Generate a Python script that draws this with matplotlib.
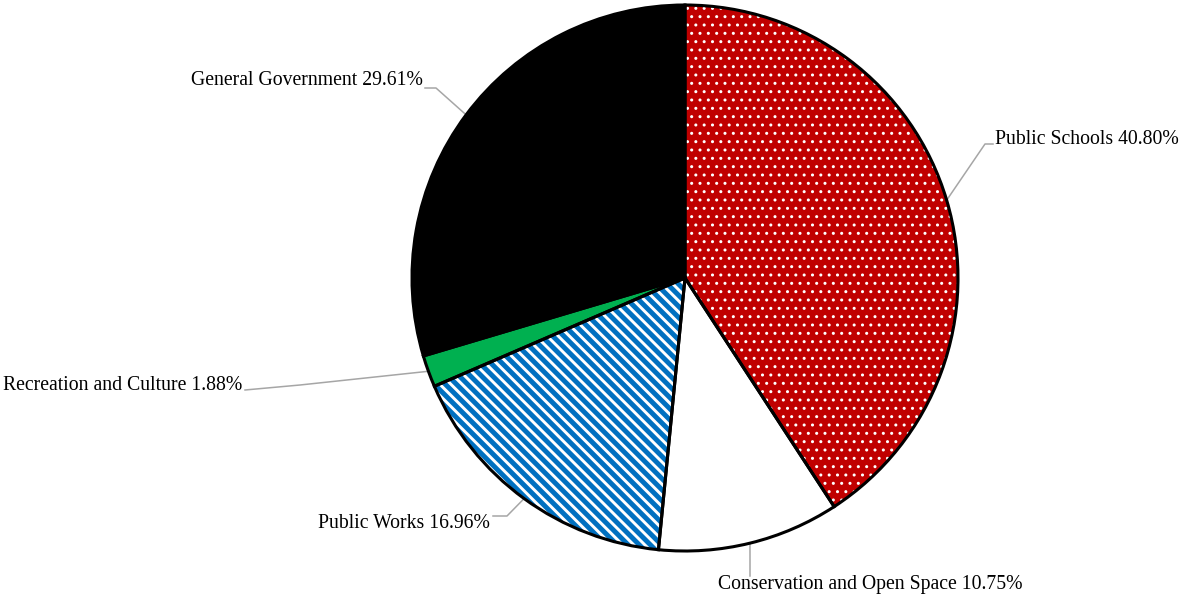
import numpy as np
import matplotlib.pyplot as plt

labels = ["Public Schools", "Conservation and Open Space", "Public Works",
          "Recreation and Culture", "General Government"]
shares = [40.80, 10.75, 16.96, 1.88, 29.61]
colors = ["#C00000", "#FFFFFF", "#0070C0", "#00B050", "#000000"]
hatches = ["..", None, "\\\\\\", None, None]
hatch_lw = [1.0, 1.0, 2.1, 1.0, 1.0]

W, H = 1181, 597
CX, CY, R = 685, 278, 273   # pie centre / radius in pixels (from top)


def px(x, y):
    # pixel position (from top-left) -> data coords
    return (x - CX) / R, (CY - y) / R


plt.rcParams['font.family'] = ['Liberation Serif', 'DejaVu Serif']
plt.rcParams['hatch.linewidth'] = 1.0

fig = plt.figure(figsize=(W / 100, H / 100), dpi=100)
ax = fig.add_axes([0, 0, 1, 1])

# filled + hatched layer
wedges, _ = ax.pie(shares, colors=colors, startangle=90, counterclock=False,
                   radius=1, wedgeprops=dict(linewidth=0, edgecolor='white'))
for w, h, lw in zip(wedges, hatches, hatch_lw):
    if h:
        w.set_hatch(h)
        if hasattr(w, 'set_hatch_linewidth'):
            w.set_hatch_linewidth(lw)
        else:
            w._hatch_linewidth = lw

# outlines
ax.pie(shares, colors=['none'] * len(shares), startangle=90, counterclock=False,
       radius=1, wedgeprops=dict(linewidth=2.2, edgecolor='black', fill=False))

x0, _ = px(0, 0)
x1, _ = px(W, 0)
_, y0 = px(0, H)
_, y1 = px(0, 0)
ax.set_xlim(x0, x1)
ax.set_ylim(y0, y1)
ax.set_aspect('equal', adjustable='box')
ax.axis('off')

# label layout: (elbow point, end point, text point, alignment) in pixels
layout = [
    ((985, 144), (993, 144), (995, 139), 'left', 'center'),
    ((750, 560), (750, 576), (870, 584), 'center', 'center'),
    ((507, 516), (493, 516), (490, 523), 'right', 'center'),
    ((300, 385), (245, 390), (242, 385), 'right', 'center'),
    ((436, 88), (425, 88), (423, 80), 'right', 'center'),
]

total = sum(shares)
start = 90.0
for lab, val, (elb, end, tp, ha, va) in zip(labels, shares, layout):
    span = val / total * 360
    mid = np.deg2rad(start - span / 2)
    start -= span
    ex, ey = np.cos(mid), np.sin(mid)
    pts = [(ex, ey), px(*elb), px(*end)]
    ax.plot([p[0] for p in pts], [p[1] for p in pts], color='#A6A6A6', lw=1.1,
            zorder=0)
    tx, ty = px(*tp)
    ax.text(tx, ty, f"{lab} {val:.2f}%", ha=ha, va=va, fontsize=14.2,
            color='black')

fig.savefig("out.png", dpi=100)
